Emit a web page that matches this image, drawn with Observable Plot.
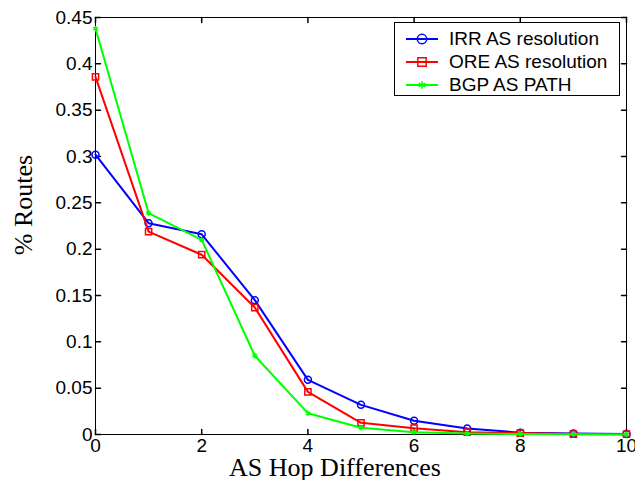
<!DOCTYPE html>
<html><head><meta charset="utf-8">
<script src="https://cdn.jsdelivr.net/npm/d3@7"></script>
<script src="https://cdn.jsdelivr.net/npm/@observablehq/plot@0.6"></script>
<style>
body{margin:0;background:#fff;}
#wrap{position:relative;width:635px;height:480px;}
#legend{position:absolute;left:394px;top:22px;width:226px;height:74px;border:1px solid #000;background:#fff;font-family:"Liberation Sans",Arial,sans-serif;font-size:19px;box-sizing:border-box;}
.row{position:absolute;left:0;height:22px;display:flex;align-items:center;white-space:nowrap;}
.row svg{margin-left:10px;margin-right:10px;}
</style></head>
<body><div id="wrap"><div id="legend"></div></div>
<script>
const hops = [0,1,2,3,4,5,6,7,8,9,10];
const irr = [0.302,0.228,0.216,0.145,0.059,0.032,0.0148,0.0065,0.002,0.001,0.0005];
const ore = [0.386,0.219,0.194,0.137,0.046,0.0126,0.0068,0.0025,0.0015,0.0005,0.0003];
const bgp = [0.438,0.239,0.210,0.085,0.023,0.0072,0.0025,0.001,0.0005,0.0002,0.0001];
const seriesNames = ["IRR AS resolution","ORE AS resolution","BGP AS PATH"];
const colors = ["#0000ff","#ff0000","#00ff00"];
const symbols = ["circle","square","asterisk"];
const xTicks = [0,2,4,6,8,10];
const yTicks = [0,0.05,0.1,0.15,0.2,0.25,0.3,0.35,0.4,0.45];

const seriesVals = [irr, ore, bgp];
const data = seriesVals.flatMap((vals,i)=>hops.map((h,j)=>({x:h,y:vals[j],s:seriesNames[i]})));

const tickShape = {draw(ctx,l){ctx.moveTo(0,0);ctx.lineTo(0,-l);}};
const font = "Liberation Sans, Arial, sans-serif";

const marks = [
  Plot.frame({stroke:"#000", strokeWidth:1}),
  Plot.axisX(xTicks,{tickSize:0, tickPadding:4, fontSize:19, fontFamily:font, fill:"#000", label:null}),
  Plot.axisY(yTicks,{tickSize:0, tickPadding:3, fontSize:19, fontFamily:font, fill:"#000", label:null, tickFormat:d=>String(d)}),
  Plot.vector(xTicks,{x:d=>d, y:0, length:5, rotate:0, anchor:"start", shape:tickShape, stroke:"#000"}),
  Plot.vector(xTicks,{x:d=>d, y:0.45, length:5, rotate:180, anchor:"start", shape:tickShape, stroke:"#000"}),
  Plot.vector(yTicks,{y:d=>d, x:0, length:5, rotate:90, anchor:"start", shape:tickShape, stroke:"#000"}),
  Plot.vector(yTicks,{y:d=>d, x:10, length:5, rotate:270, anchor:"start", shape:tickShape, stroke:"#000"}),
];
seriesNames.forEach((name,i)=>{
  const d = data.filter(r=>r.s===name);
  marks.push(Plot.line(d,{x:"x",y:"y",stroke:colors[i],strokeWidth:2}));
  marks.push(Plot.dot(d,{x:"x",y:"y",symbol:symbols[i],stroke:colors[i],fill:"none",strokeWidth:1.5,r:i===2?2.5:3.5}));
});

const chart = Plot.plot({
  width:635, height:480,
  marginLeft:95, marginRight:9, marginTop:17, marginBottom:46,
  x:{domain:[0,10]},
  y:{domain:[0,0.45]},
  style:{background:"#fff", overflow:"visible"},
  marks
});
const wrap = document.getElementById("wrap");
wrap.insertBefore(chart, wrap.firstChild);

const svg = d3.select(chart);
svg.append("text").attr("x",335).attr("y",476).attr("text-anchor","middle")
  .attr("font-family","Liberation Serif, Times New Roman, serif").attr("font-size",26).attr("fill","#000").text("AS Hop Differences");
svg.append("text").attr("transform","translate(32,205) rotate(-90)").attr("text-anchor","middle")
  .attr("font-family","Liberation Serif, Times New Roman, serif").attr("font-size",26).attr("fill","#000").text("% Routes");

const leg = document.getElementById("legend");
seriesNames.forEach((name,i)=>{
  const row = document.createElement("div");
  row.className="row"; row.style.top=(5+i*23)+"px";
  const sym = d3.symbol(i===0?d3.symbolCircle:i===1?d3.symbolSquare:d3.symbolAsterisk, i===2?40:70)();
  row.innerHTML = `<svg width="34" height="20"><line x1="1" y1="10" x2="33" y2="10" stroke="${colors[i]}" stroke-width="2"/><path transform="translate(17,10)" d="${sym}" fill="none" stroke="${colors[i]}" stroke-width="1.5"/></svg><span>${name}</span>`;
  leg.appendChild(row);
});
</script></body></html>
